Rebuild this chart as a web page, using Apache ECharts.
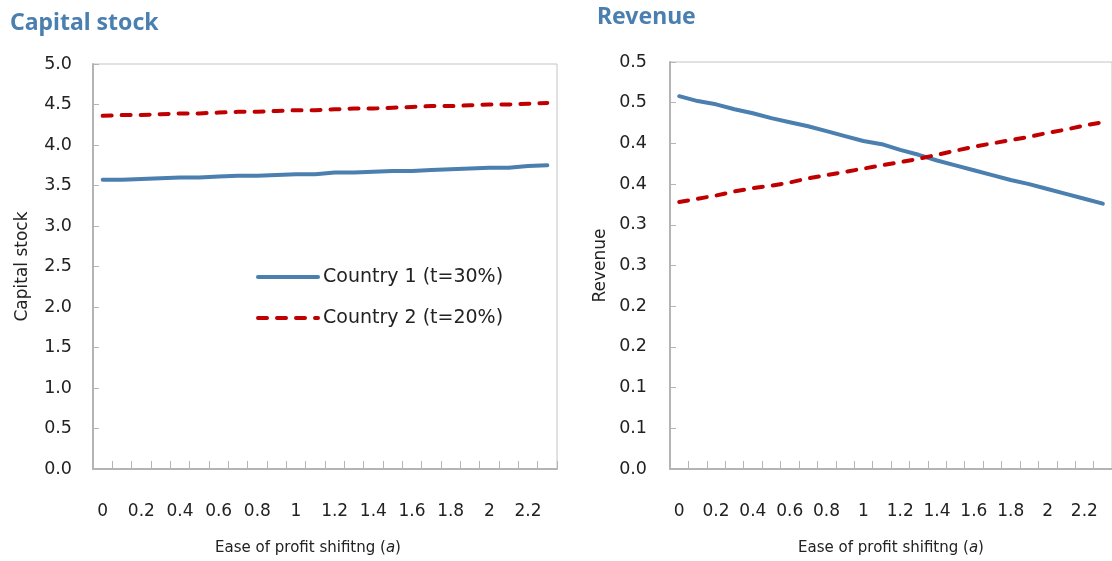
<!DOCTYPE html>
<html>
<head>
<meta charset="utf-8">
<script src="https://cdn.jsdelivr.net/npm/echarts@6/dist/echarts.min.js"></script>
<style>
  html, body { margin:0; padding:0; background:#fff; }
  #chart { width:1112px; height:561px; }
</style>
</head>
<body>
<div id="chart"></div>
<script>
// ease of profit shifting, 0 .. 2.3
const categories = ['0','0.1','0.2','0.3','0.4','0.5','0.6','0.7','0.8','0.9','1','1.1',
                    '1.2','1.3','1.4','1.5','1.6','1.7','1.8','1.9','2','2.1','2.2','2.3'];

const capitalCountry1 = [3.57,3.57,3.58,3.59,3.60,3.60,3.61,3.62,3.62,3.63,3.64,3.64,
                         3.66,3.66,3.67,3.68,3.68,3.69,3.70,3.71,3.72,3.72,3.74,3.75];
const capitalCountry2 = [4.36,4.37,4.37,4.38,4.39,4.39,4.40,4.41,4.41,4.42,4.43,4.43,
                         4.44,4.45,4.45,4.46,4.47,4.48,4.48,4.49,4.50,4.50,4.51,4.52];

const revenueCountry1 = [0.458,0.452,0.448,0.442,0.437,0.431,0.426,0.421,0.415,0.409,0.403,0.399,
                         0.392,0.386,0.379,0.373,0.367,0.361,0.355,0.350,0.344,0.338,0.332,0.326];
const revenueCountry2 = [0.328,0.332,0.336,0.341,0.345,0.348,0.352,0.357,0.361,0.365,0.369,0.373,
                         0.377,0.381,0.386,0.391,0.396,0.400,0.404,0.408,0.413,0.417,0.422,0.426];

const capitalTicks = ['0.0','0.5','1.0','1.5','2.0','2.5','3.0','3.5','4.0','4.5','5.0'];
const revenueTicks = ['0.0','0.1','0.1','0.2','0.2','0.3','0.3','0.4','0.4','0.5','0.5'];

const seriesNames = ['Country 1 (t=30%)', 'Country 2 (t=20%)'];

const blue = '#4a7fb0';
const red = '#c00000';
const axisGray = '#b4b4b4';
const font = "'DejaVu Sans', sans-serif";
const titleFont = "'Noto Sans', 'Open Sans', sans-serif";
const dash = [9, 10];

let myChart = echarts.init(document.getElementById('chart'));

function xAxisFor(gridIndex, namePad){
    return {
        type:'category',
        gridIndex:gridIndex,
        data:categories,
        boundaryGap:true,
        name:'Ease of profit shifitng ({i|a})',
        nameLocation:'middle',
        nameGap:72,
        nameTextStyle:{
            fontFamily:font, fontSize:15, color:'#222', padding:namePad,
            rich:{ i:{ fontFamily:font, fontSize:15, fontStyle:'italic', color:'#222' } }
        },
        axisLine:{ lineStyle:{ color:axisGray, width:2 } },
        axisTick:{ show:true, inside:true, length:8, interval:0, lineStyle:{ color:axisGray } },
        axisLabel:{ interval:1, margin:34, fontFamily:font, fontSize:17, color:'#222' },
        splitLine:{ show:false }
    };
}

function yAxisFor(gridIndex, name, max, interval, ticks, nameGap, labelMargin){
    return {
        type:'value',
        gridIndex:gridIndex,
        min:0,
        max:max,
        interval:interval,
        name:name,
        nameLocation:'middle',
        nameGap:nameGap,
        nameTextStyle:{ fontFamily:font, fontSize:17, color:'#222' },
        axisLine:{ show:true, lineStyle:{ color:axisGray, width:2 } },
        axisTick:{ show:true, inside:true, length:6, lineStyle:{ color:axisGray } },
        axisLabel:{
            margin:labelMargin, fontFamily:font, fontSize:17.5, color:'#222',
            formatter:(value, index)=>ticks[index]
        },
        splitLine:{ show:false }
    };
}

let option = {
    animation:false,
    title:[
        { text:'Capital stock', left:5, top:7,
          textStyle:{ fontFamily:titleFont, fontSize:23, fontWeight:'bold', color:blue } },
        { text:'Revenue', left:592, top:1,
          textStyle:{ fontFamily:titleFont, fontSize:23, fontWeight:'bold', color:blue } }
    ],
    legend:{
        data:seriesNames,
        orient:'vertical',
        left:251,
        top:261,
        itemWidth:60,
        itemHeight:14,
        itemGap:19,
        itemStyle:{ opacity:0 },
        lineStyle:{ width:4, cap:'round' },
        textStyle:{ fontFamily:font, fontSize:19, lineHeight:22, color:'#222' }
    },
    grid:[
        { left:93, right:555, top:64, bottom:84, show:true, borderColor:'#c4c4c4', borderWidth:1 },
        { left:670, right:-5, top:62, bottom:84, show:true, borderColor:'#c4c4c4', borderWidth:1 }
    ],
    xAxis:[ xAxisFor(0, [0, 34, 0, 0]), xAxisFor(1, 0) ],
    yAxis:[
        yAxisFor(0, 'Capital stock', 5, 0.5, capitalTicks, 62, 21),
        yAxisFor(1, 'Revenue', 0.5, 0.05, revenueTicks, 61, 23)
    ],
    series:[
        { type:'line', name:seriesNames[0], xAxisIndex:0, yAxisIndex:0, data:capitalCountry1,
          symbol:'none', lineStyle:{ color:blue, width:4, cap:'round' }, itemStyle:{ color:blue } },
        { type:'line', name:seriesNames[1], xAxisIndex:0, yAxisIndex:0, data:capitalCountry2,
          symbol:'none', lineStyle:{ color:red, width:4, type:dash, cap:'round' }, itemStyle:{ color:red } },
        { type:'line', name:seriesNames[0], xAxisIndex:1, yAxisIndex:1, data:revenueCountry1,
          symbol:'none', lineStyle:{ color:blue, width:4, cap:'round' }, itemStyle:{ color:blue } },
        { type:'line', name:seriesNames[1], xAxisIndex:1, yAxisIndex:1, data:revenueCountry2,
          symbol:'none', lineStyle:{ color:red, width:4, type:dash, cap:'round' }, itemStyle:{ color:red } }
    ]
};
myChart.setOption(option);
</script>
</body>
</html>
